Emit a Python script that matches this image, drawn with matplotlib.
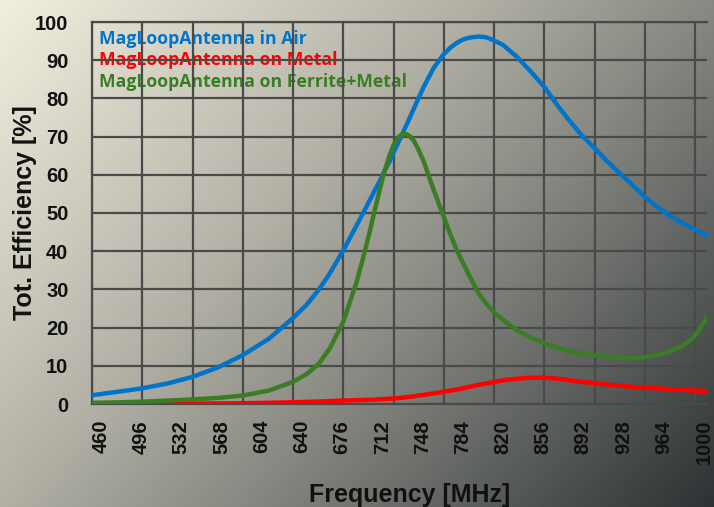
import numpy as np
import matplotlib.pyplot as plt
from matplotlib.colors import LinearSegmentedColormap

freq = [452, 470, 497, 520, 542, 565, 587, 610, 632, 644, 655, 665, 677, 689, 695, 701, 705, 710,
        714, 719, 722, 725, 728, 731, 734, 737, 740, 744, 749, 758, 767, 773, 779, 785, 790, 798,
        805, 811, 820, 832, 845, 857, 870, 880, 890, 902, 913, 925, 935, 946, 958, 970, 982,
        991, 996, 1002]
air = [2.3, 3.0, 4.1, 5.4, 7.1, 9.6, 12.8, 17.0, 22.5, 25.9, 29.9, 34.2, 40.2, 46.8, 50.1, 53.5, 55.8, 58.6,
       61.0, 63.8, 65.8, 67.7, 69.5, 71.4, 73.3, 75.2, 77.2, 79.8, 83.0, 88.0, 91.6, 93.3, 94.6, 95.5, 95.9, 96.2,
       96.0, 95.3, 94.0, 91.0, 87.0, 83.0, 77.7, 74.0, 70.5, 67.0, 63.6, 60.3, 57.6, 54.5, 51.6, 49.2, 47.2,
       45.8, 45.0, 44.2]
metal = [0.0, 0.0, 0.05, 0.1, 0.1, 0.15, 0.2, 0.3, 0.45, 0.55, 0.65, 0.75, 0.9, 1.0, 1.05, 1.1, 1.15, 1.25,
         1.3, 1.4, 1.45, 1.5, 1.6, 1.7, 1.8, 1.9, 2.0, 2.2, 2.4, 2.8, 3.2, 3.5, 3.8, 4.2, 4.5, 5.0,
         5.4, 5.7, 6.2, 6.6, 6.9, 6.9, 6.6, 6.2, 5.8, 5.5, 5.1, 4.8, 4.5, 4.3, 4.1, 3.9, 3.7,
         3.5, 3.45, 3.4]
ferrite = [0.3, 0.4, 0.6, 0.9, 1.2, 1.6, 2.2, 3.5, 5.8, 7.8, 10.5, 14.6, 21.5, 32.0, 38.5, 45.5, 50.5, 56.5,
           61.0, 65.5, 67.8, 69.4, 70.3, 70.7, 70.6, 70.0, 69.0, 66.8, 63.5, 56.0, 49.0, 44.3, 40.0, 36.5, 33.5, 29.0,
           26.3, 24.3, 22.0, 19.4, 17.4, 15.9, 14.6, 13.8, 13.2, 12.8, 12.4, 12.1, 12.0, 12.2, 12.8, 13.8, 15.4,
           17.6, 19.6, 22.4]

labels = ["MagLoopAntenna in Air", "MagLoopAntenna on Metal", "MagLoopAntenna on Ferrite+Metal"]
colors = ["#0074C8", "#FF0000", "#3A7D24"]
xticks = list(range(460, 1001, 36))

fig = plt.figure(figsize=(7.14, 5.07), dpi=100)

# gradient background
bg = fig.add_axes([0, 0, 1, 1], zorder=-1)
bg.axis("off")
cmap = LinearSegmentedColormap.from_list("bg", [
    (0.0, (242/255, 239/255, 224/255)),
    (0.4, (178/255, 176/255, 165/255)),
    (0.6, (135/255, 137/255, 130/255)),
    (1.0, (45/255, 50/255, 52/255))])
u, v = np.meshgrid(np.linspace(0, 1, 300), np.linspace(0, 1, 300))
bg.imshow(0.6 * u + 0.4 * v, cmap=cmap, aspect="auto", extent=(0, 1, 0, 1), origin="upper")
bg.set_xlim(0, 1)
bg.set_ylim(0, 1)

ax = fig.add_axes([92/714, 1 - 404/507, 615/714, 382/507])
ax.set_facecolor("none")

series = [air, metal, ferrite]
for vals, col, lab in zip(series, colors, labels):
    ax.plot(freq, vals, color=col, lw=3.2, solid_capstyle="round",
            solid_joinstyle="round", label=lab, zorder=3)

ax.set_xlim(452, 1002.7)
ax.set_ylim(0, 100)
ax.set_xticks(xticks)
ax.set_xticks(np.arange(452, 1000, 45), minor=True)
ax.set_yticks(range(0, 101, 10))
ax.tick_params(axis="both", which="both", length=0)
ax.tick_params(axis="x", which="major", pad=11.5, rotation=90)
ax.tick_params(axis="y", pad=17)
for t in ax.get_xticklabels() + ax.get_yticklabels():
    t.set_fontfamily("Liberation Sans")
    t.set_fontweight("bold")
    t.set_fontsize(14.5)
    t.set_color("#111111")

ax.grid(True, axis="y", which="major", color="#4a4a4a", lw=1.6, zorder=1.5)
ax.grid(True, axis="x", which="minor", color="#4a4a4a", lw=1.6, zorder=1.5)
for s in ["left", "bottom", "top"]:
    ax.spines[s].set_color("#4a4a4a")
    ax.spines[s].set_linewidth(1.6)
ax.spines["right"].set_visible(False)

ax.set_ylabel("Tot. Efficiency [%]", fontsize=18, fontweight="bold",
              family="Liberation Sans", color="#111111")
ax.yaxis.set_label_coords(-0.089, 0.5)
ax.set_xlabel("Frequency [MHz]", fontsize=18, fontweight="bold",
              family="Liberation Sans", color="#111111")
ax.xaxis.set_label_coords(0.517, -0.207)

# coloured series names in the top left corner
ypos = [0.942, 0.887, 0.830]
for lab, col, yy in zip(labels, colors, ypos):
    ax.text(0.0114, yy, lab, transform=ax.transAxes, color=col, fontsize=12.7,
            fontweight="bold", family="Open Sans", va="baseline", ha="left", zorder=1)

fig.savefig("out.png", dpi=100)
